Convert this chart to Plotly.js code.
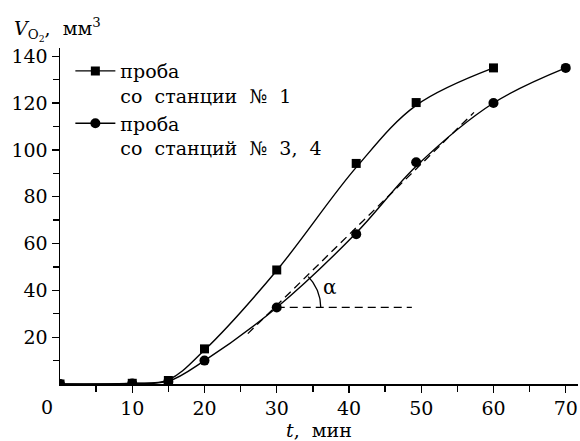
<!DOCTYPE html>
<html>
<head>
<meta charset="utf-8">
<script src="https://cdn.plot.ly/plotly-3.0.1.min.js"></script>
<style>html,body{margin:0;padding:0;background:#fff;}#chart{width:580px;height:441px;}</style>
</head>
<body>
<div id="chart"></div>
<script>
// Series 1: проба со станции № 1 (squares) — measured points
const t1 = [0, 10, 15, 20, 30, 41, 49.3, 60];
const v1 = [0, 0.3, 1.5, 15, 48.7, 94.2, 120.2, 135];
// Series 1 smooth curve
const c1T = [0, 10, 15, 20, 30, 41, 49.3, 60];
const c1V = [0, 0.3, 1.8, 14.5, 48.5, 92.5, 119, 135];
// Series 2: проба со станций № 3, 4 (circles) — measured points
const t2 = [0, 10, 15, 20, 30, 41, 49.3, 60, 70];
const v2 = [0, 0.2, 1, 10, 32.7, 64, 94.7, 120, 135];
// Series 2 smooth curve
const c2T = [0, 10, 15, 20, 30, 41, 49.3, 60, 70];
const c2V = [0, 0.2, 1.2, 10, 32.7, 64.5, 93, 120, 135];
// Tangent line and horizontal reference (dashed)
const tanT = [26, 57.3];
const tanV = [21.5, 116];
const horT = [30, 48.7];
const horV = [32.7, 32.7];
// Labels
const name1 = 'проба<br>со  станции  №  1';
const name2 = 'проба<br>со  станций  №  3,  4';
const xTicks = [10, 20, 30, 40, 50, 60, 70];
const xMinor = [5, 15, 25, 35, 45, 55, 65];
const yTicks = [20, 40, 60, 80, 100, 120, 140];
const yMinor = [10, 30, 50, 70, 90, 110, 130];

const W = 580, H = 441;
const mL = 60, mR = 2, mT = 48, mB = 57;
const xRange = [0, 71.7];
const yRange = [0, 143.5];
const pxX = (W - mL - mR) / (xRange[1] - xRange[0]);
const pxY = (H - mT - mB) / (yRange[1] - yRange[0]);

// Angle arc around the tangent point
const cT = horT[0], cV = horV[0];
const slope = (tanV[1] - tanV[0]) / (tanT[1] - tanT[0]);
const alpha = Math.atan(slope * pxY / pxX);
const rPx = 44;
const arcT = [], arcV = [];
for (let i = 0; i <= 30; i++) {
  const a = alpha * i / 30;
  arcT.push(cT + rPx * Math.cos(a) / pxX);
  arcV.push(cV + rPx * Math.sin(a) / pxY);
}

const font = 'DejaVu Serif, Liberation Serif, serif';
const lineStyle = {color: '#000', width: 1.4, shape: 'spline', smoothing: 1};
const sq = {symbol: 'square', size: 9, color: '#000'};
const ci = {symbol: 'circle', size: 10, color: '#000'};
const data = [
  {x: tanT, y: tanV, mode: 'lines', line: {color: '#000', width: 1.3, dash: '8px,5px'}, showlegend: false, hoverinfo: 'skip'},
  {x: horT, y: horV, mode: 'lines', line: {color: '#000', width: 1.3, dash: '8px,5px'}, showlegend: false, hoverinfo: 'skip'},
  {x: arcT, y: arcV, mode: 'lines', line: {color: '#000', width: 1.3}, showlegend: false, hoverinfo: 'skip'},
  {x: c1T, y: c1V, mode: 'lines', line: lineStyle, showlegend: false, hoverinfo: 'skip'},
  {x: c2T, y: c2V, mode: 'lines', line: lineStyle, showlegend: false, hoverinfo: 'skip'},
  {x: t1, y: v1, mode: 'markers', marker: sq, showlegend: false},
  {x: t2, y: v2, mode: 'markers', marker: ci, showlegend: false},
  // legend entries
  {x: [null], y: [null], name: name1, mode: 'lines+markers', line: {color: '#000', width: 1.4}, marker: sq},
  {x: [null], y: [null], name: name2, mode: 'lines+markers', line: {color: '#000', width: 1.4}, marker: ci}
];

const layout = {
  width: W, height: H,
  margin: {l: mL, r: mR, t: mT, b: mB},
  paper_bgcolor: '#fff', plot_bgcolor: '#fff',
  font: {family: font, size: 19, color: '#000'},
  showlegend: true,
  legend: {x: 0.02, y: 0.988, xanchor: 'left', yanchor: 'top', bgcolor: 'rgba(0,0,0,0)',
           font: {family: font, size: 19, color: '#000'}, valign: 'top', itemwidth: 40, tracegroupgap: 0},
  xaxis: {range: xRange, showgrid: false, zeroline: false, showline: true, linecolor: '#000', linewidth: 1.5,
          ticks: 'outside', ticklen: 7, tickwidth: 1.3, tickcolor: '#000', tickvals: xTicks,
          minor: {tickvals: xMinor, ticks: 'outside', ticklen: 6, tickwidth: 1.3, tickcolor: '#000'},
          tickfont: {family: font, size: 19},
          title: {text: '<i>t</i>,  мин', font: {family: font, size: 19}, standoff: 3}},
  yaxis: {range: yRange, showgrid: false, zeroline: false, showline: true, linecolor: '#000', linewidth: 1.5,
          ticks: 'outside', ticklen: 7, tickwidth: 1.3, tickcolor: '#000', tickvals: yTicks,
          minor: {tickvals: yMinor, ticks: 'outside', ticklen: 6, tickwidth: 1.3, tickcolor: '#000'},
          tickfont: {family: font, size: 19}},
  annotations: [
    {xref: 'paper', yref: 'paper', x: (12 - mL) / (W - mL - mR), y: (H - mB - 30) / (H - mT - mB),
     xanchor: 'left', yanchor: 'middle', showarrow: false,
     text: '<i>V</i><sub>O<sub>2</sub></sub>,  мм<sup>3</sup>', font: {family: font, size: 19}},
    {xref: 'paper', yref: 'paper', x: (47 - mL) / (W - mL - mR), y: (H - mB - 407) / (H - mT - mB),
     xanchor: 'center', yanchor: 'middle', showarrow: false, text: '0', font: {family: font, size: 19}},
    {xref: 'x', yref: 'y', x: 37.4, y: 41.4, xanchor: 'center', yanchor: 'middle', showarrow: false,
     text: 'α', font: {family: font, size: 20}}
  ]
};

Plotly.newPlot('chart', data, layout, {staticPlot: true, displayModeBar: false});
</script>
</body>
</html>
